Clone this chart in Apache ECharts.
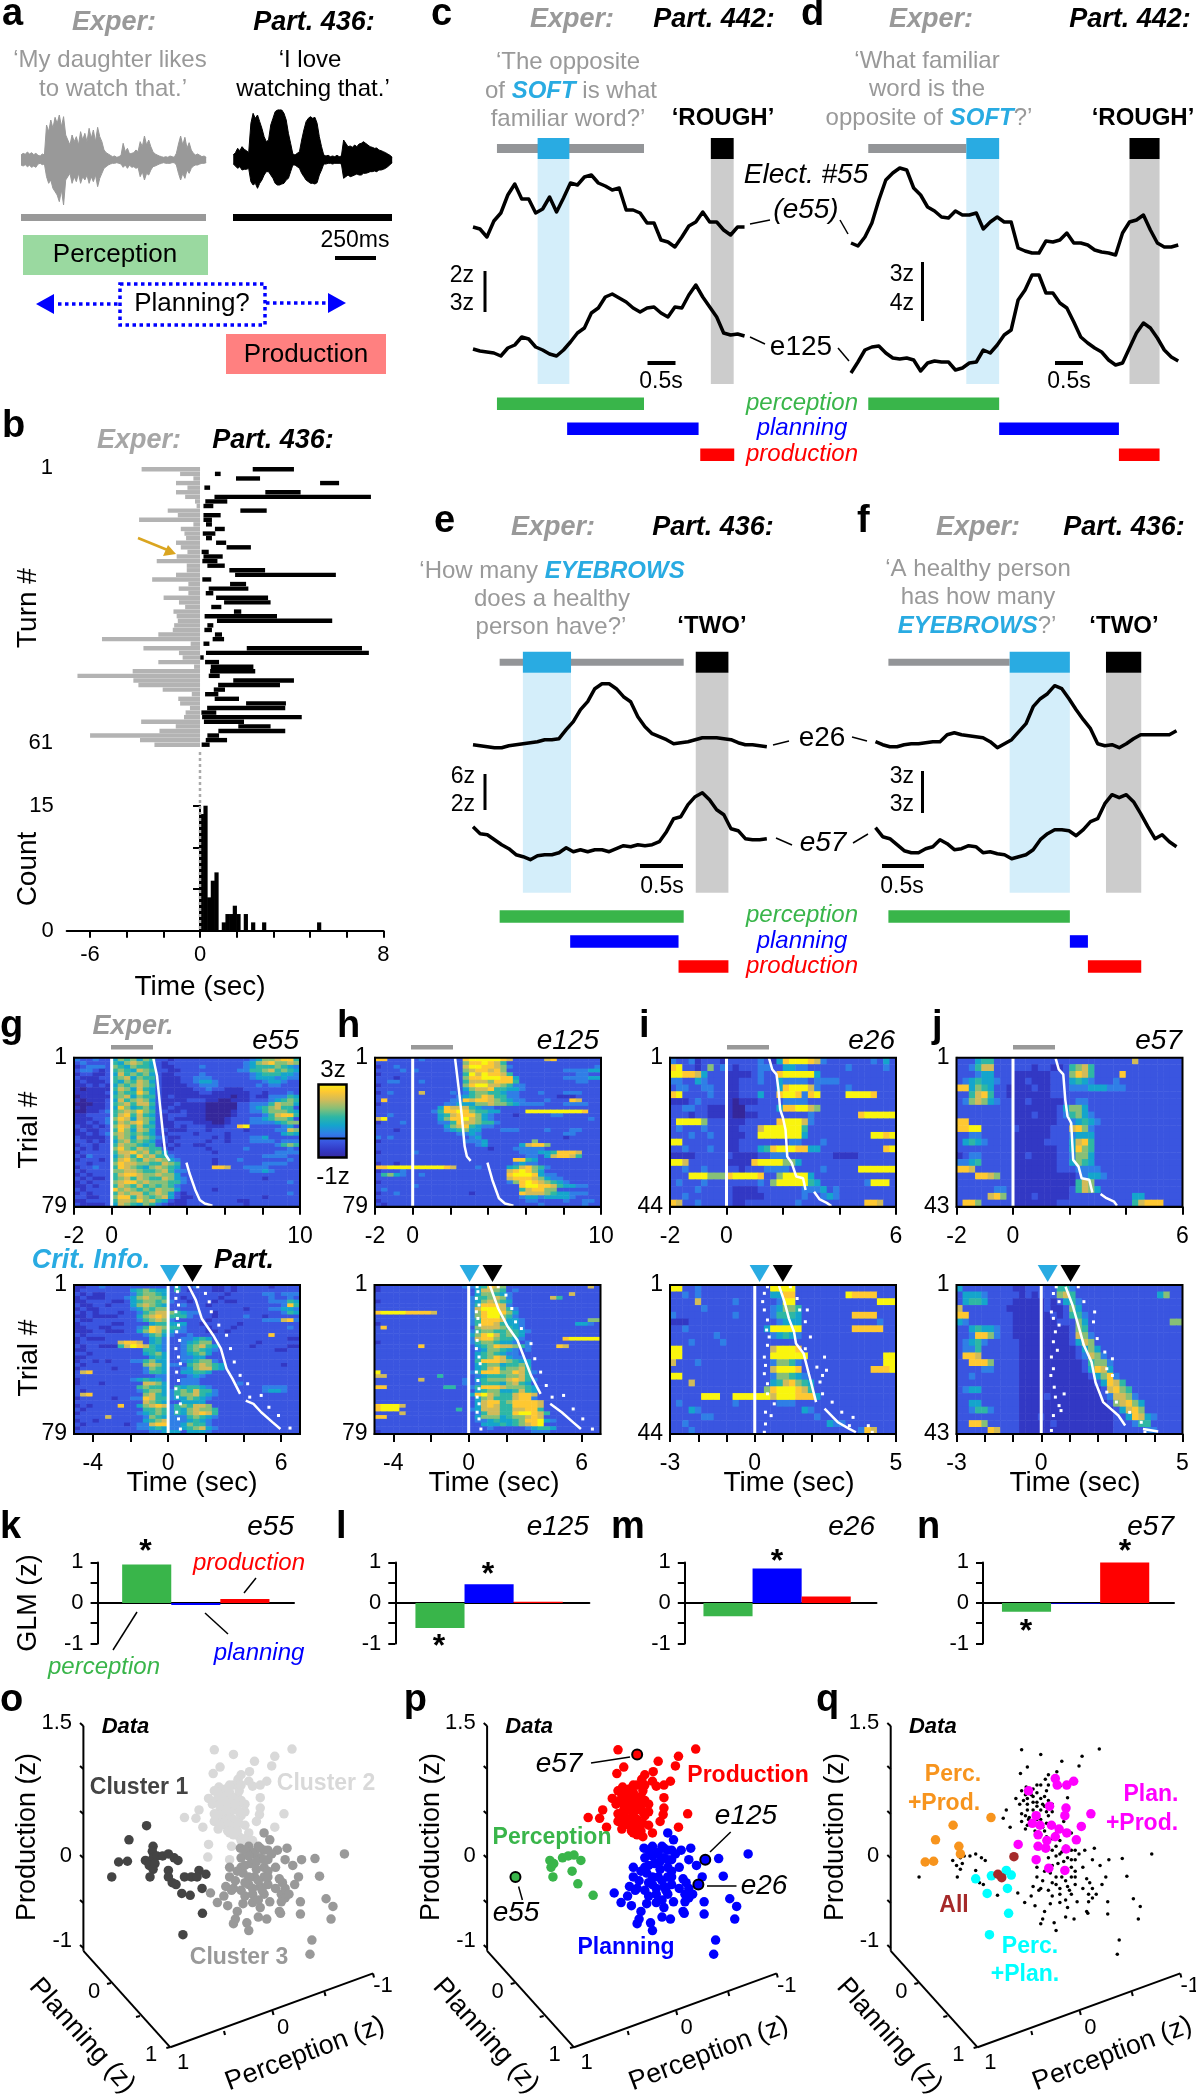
<!DOCTYPE html>
<html lang="en">
<head>
<meta charset="UTF-8">
<title>Perception, planning and production</title>
</head>
<body style="margin:0;background:#fff">
<div id="main" style="width:1196px;height:2100px"></div>
<script src="https://cdn.jsdelivr.net/npm/echarts@6/dist/echarts.min.js"></script>
<script>
// panel a: waveform envelopes
var expUp = [15,20,17,24,18,22,16,20,14,12,18,15,105,85,120,95,128,110,135,100,130,75,60,45,75,55,70,45,85,60,80,55,95,65,90,55,98,70,55,30,22,18,14,10,12,8,10,14,50,25,35,18,20,22,30,25,55,40,72,45,60,40,25,18,15,12,10,8,10,8,12,10,8,20,48,72,45,68,35,52,30,20,15,18,14,10,12,8];
var expDown = [15,18,14,20,16,22,18,22,12,10,14,12,50,70,60,85,95,105,125,90,135,60,50,40,70,50,65,40,70,50,60,45,70,50,65,45,80,55,40,25,20,15,12,10,10,8,10,12,22,15,25,15,22,20,25,22,50,35,60,40,45,30,20,18,15,12,10,8,10,10,10,8,8,15,40,60,40,55,30,40,25,18,15,15,12,10,10,8];
var partUp = [15,22,35,28,40,32,28,22,110,140,125,135,115,95,70,55,60,105,125,145,150,155,150,140,120,80,50,18,15,20,25,60,90,115,125,130,125,128,110,70,40,15,12,14,10,12,10,14,10,12,60,50,40,42,38,45,40,48,50,55,50,45,40,38,35,36,30,28,25,22,18,14,8];
var partDown = [12,18,25,20,30,28,28,25,65,75,70,85,70,60,45,35,35,45,55,70,75,75,72,70,60,55,35,15,15,20,25,40,50,60,65,70,70,72,68,45,30,12,12,10,10,12,10,10,10,12,55,50,45,50,48,45,42,45,45,40,40,38,35,35,33,35,30,30,28,25,20,14,8];

// panel b: turn durations in sec
var expLen = [2.55,.87,.29,1.05,.55,1.05,.65,.22,.15,1.41,.97,2.66,.29,.84,.68,.61,1.05,.84,.55,1.02,1.89,.58,.58,1.05,2.09,.51,.93,.51,1.59,.92,.65,1.16,1.02,.97,1.13,1.19,1.82,4.28,.41,2.47,.92,.76,1.82,.26,2.94,5.35,2.91,2.69,1.63,.36,.95,.87,.44,.63,.7,2.57,1.06,1.77,4.8,2.62,1.99];
var partOn = [2.3,.65,1.57,5.24,.19,2.85,.63,.23,.15,1.76,.15,.15,.26,.65,.12,.26,.7,1.16,.07,.15,.1,.32,1.28,1.53,.1,1.31,.38,.25,.7,1.05,.49,1.48,.2,.74,.32,.19,.65,.55,.15,2.04,.26,.01,.22,.47,.44,.38,1.45,.79,.6,.22,.64,2.01,.31,.06,.09,.17,1.67,.8,.32,.25,.07];
var partOff = [4.1,.9,2.62,6.07,.44,4.39,7.46,1.19,.58,2.91,.9,.52,.52,1.08,.67,.52,1.14,2.22,.38,.99,.76,1.08,2.84,5.93,.49,2.01,2.11,.58,2.97,3.08,.93,1.8,3.36,5.77,.58,.52,.96,1.05,.41,7.07,7.37,.16,.83,2.33,2.41,.86,4.1,3.49,1.09,.8,1.7,3.75,3.72,.71,4.44,1.92,3.08,3.72,.83,1.18,.42];
var histCounts = [14,15,4,6,7,0,1,2,2,3,2,0,2,0,1,0,0,1,0,0,0,0,0,0,0,0,0,0,0,0,0,0,1];

// panels c-f: high gamma traces, offset on one shared axis
var c55 = [23.8,23.6,22.8,24.4,25.2,27,28.1,26.6,26.6,25.2,25.6,26.8,25.3,26.7,28.2,28,28.8,29,28.2,27.9,27.5,27.7,25.5,25.5,25.2,24.2,24.2,22.5,22.3,21.8,22.8,23.9,24.3,25.3,24.3,24.3,23.5,23,23.8,23.8];
var c125 = [11.6,11.4,11.3,11.2,10.9,11.7,12,12.8,12.6,11.8,11.5,11.1,10.9,11.5,12.3,13.2,13.7,15.2,15.7,16.8,17.1,16.7,16.3,15.7,15.3,15.7,15.8,15.2,14.8,15.8,15.7,17,18,16.8,15.8,14.8,13.2,13,13.1,12.9];
var d55 = [22.2,21.9,22.8,24.2,26.5,28.5,29.2,29.7,29.5,27.7,27,25.8,25.4,24.8,24.7,25.4,25,25,25.2,23.6,24.3,24.8,24.3,24.3,21.7,21.4,21.2,21.2,22.4,22.3,22.5,23.2,22.2,22.2,22,21.5,21.3,21.2,21,23.2,24.3,24.5,25,23.5,22.2,21.8,21.8,22];
var d125 = [9.2,10.3,11.5,11.8,11.9,11.2,10.7,10.6,10.7,10.5,9.4,10.2,10.4,10.3,10.3,9.5,9.7,10.2,10.3,11.5,11.2,12,13,13.5,16.5,17.5,19,19,17.2,17.2,16.2,15.7,14.3,12.8,12.2,11.7,11.3,10.5,10,10.2,11.7,13.2,14.2,13.7,12.7,11.5,10.8,10.4];
var e26 = [23.2,23.1,23,22.9,22.9,23.1,23.2,23.3,23.4,23.5,23.7,23.7,23.8,24.7,25.5,26.7,27.5,28.8,29.3,29.3,28.8,28,27.5,26,25,24.3,24,23.7,23.3,23.4,23.5,23.7,23.9,23.9,23.9,23.8,23.7,23.4,23.2,23.2,23.1,23];
var e57 = [15,14.3,14.2,13.7,13.2,12.8,12.2,12,11.7,12.1,12.2,12.2,12.4,12.9,12.5,12.7,12.5,12.7,12.7,12.5,12.8,13.1,13,13.2,13.1,13.2,13.5,14.5,15.8,16,17.2,18,18.4,17.7,16.7,16.2,14.8,14.6,13.8,13.7,13.7,13.8];
var f26 = [23.5,23.2,23,23,23.2,23.3,23.3,23.4,23.5,23.5,24.2,24.4,24.2,24.1,24,23.9,23.5,22.9,23.3,23.7,24.5,25.3,27,27.8,28.3,29.1,28.8,27.8,26.7,25.7,24.8,23.3,23.1,23.2,22.9,23.3,23.8,24.2,24.2,24.2,24.2,24.2,24.6];
var f57 = [14.9,14,13.8,13.2,12.6,12.4,12.4,12.8,13,13.7,13.3,12.7,12.8,13.1,13,12.4,12.5,12.3,12.2,11.8,12,12.2,12.7,13.7,14.3,14.7,14.7,14.6,14.1,14.7,15.5,15.8,17.3,18.2,17.9,18.2,17.5,16.3,15,13.8,14.2,13.5,13];
// event windows in sec
var cEvents = {exper:[.43,3.07],crit:[1.16,1.73],part:[4.27,4.68],perc:[.43,3.07],plan:[1.69,4.05],prod:[4.08,4.69]};
var dEvents = {exper:[.31,2.07],crit:[2.07,2.66],part:[5,5.54],perc:[.31,2.66],plan:[2.66,4.81],prod:[4.81,5.54]};
var eEvents = {exper:[.31,2.45],crit:[.58,1.14],part:[2.59,2.97],perc:[.31,2.45],plan:[1.13,2.39],prod:[2.39,2.97]};
var fEvents = {exper:[.15,1.56],crit:[1.56,2.26],part:[2.68,3.09],perc:[.15,2.26],plan:[2.26,2.47],prod:[2.47,3.09]};

// panels g-j: single trial activity, one digit per cell, 0 = -1z ... 9 = 3z
var gTop = [
"322322465646522122222222222234667885","232222546765421222222222222346786676","123332654655421122223222222345556543","233212565476522112222222223355675654",
"122112475656421122223222222234555443","211122567465521112233322222234443433","121112546576421112234432222222344322","112121465676521111223332222223233222",
"101111576475421111122322111222222222","111112465586421111112211111122122232","011111567465521211111111101121133354","101112475676421111222110011122234565",
"000112567577521121111000002233357664","101112486456421211111000002234567552","001123567686522112111000012233566654","112222578575421222111000012222357885",
"111223687476521211111000122233456652","112123576786421122211100122233334566","211212687575521121222111228922222342","121122586476422111222122222122223376",
"112123676565421222212222122222222454","211112576476532112222212122233422222","221212467565422122222122122233332333","122122576654521212211222222222223565",
"212122686576552122222122222322222232","122222577867564222222212222222223333","213222467586755322222222222222333322","122212578657676432222212223222222232",
"221222687766557652222212222222333322","122322587654676542222288722333322222","212222667765567533222222222233432222","121222578876676642222222222222222222",
"212112567576557643222222222222122222","121222678867666553222222222222222232","112122576575656532222222222222222222","212222867656576642222212222222222222",
"121222576775676421222222222222222232","221122688576567421122222222222122222","112222577686754211222222221122222222","211112476546532111222222222122222222"];
var gBottom = [
"112232222222222242232211212222212222","122222222456544252122211212222222222","212112222356654222222222122222332333","121112223467665221222221222222232232",
"112222112456656322122212112222233354","211221222467654223222122222222222385","121122222346566222222222222122233443","212122212235677654332212222222222354",
"112111122246787555322212222322122222","211222222235676322222122222222333783","122222112222455444221222221222222222","112211222235876553222122212222222232",
"111221112246875433222112122222222222","212222222223564322322222222222282222","121112222222453223345422222222222211","122222278872453223456622222221222222",
"212211157987543223567542222212222211","112222222225543223565432222222221122","221222222224564223456422222222222222","112222222222454223344222222222222222",
"122121222335644223456632222222222222","212222222226764332567654222222222122","122222122223654223467754222222222222","278222222223554224455422222222222222",
"222222222222233222343222222222222222","122222222345443223332222222222222222","122212222227764223332222223222222222","222222222256554254554322222222333322",
"212222222235664356575532222222344322","278222222226754356675432222222222222","122222122338755344654322222222222222","222222222227654224444222222222222222",
"121222282246787356577622222222222222","212222222225565354676652222222222222","122222222234565354678752222222222222","222227222223654333565432222222222222",
"122122222224567333454322222222222222","212222221233788334655322222222222222","122222222233454334567432222222222222","222222222222334442444322222222222222"];
var hTop = [
"882222232222228999998722222782222222","222222222222226889875222222222222222","122322222222227998876322222222222223","222232322222226788786222222222333344",
"122222222222225979887522222222223322","222122222222226889998842222222333344","223322232222225777688852222222223322","122222222222226899776533222222222222",
"222222222222224677855443222222222222","123222272222323566554332223222333222","222222222222234568755332222221112222","282222222222338788765433222322287222",
"122222222223344466766543333222333322","222222222248777543322222222222222222","222222222358898655442222999999999822","223222222245788864322212222233222222",
"792222222246889764322222222222222232","122232222233587765532222222222222222","222222222224678543322222222222222222","222122222223456442223332222322233222",
"222222222222233432222222222222332222","323222222222222342222222222222122222","122222222222223334222222262222222222","222222222222222234222224788622222222",
"222222222222222222122233333222222222","122222322222222222222223334458887222","222222222222222222222222332478875222","222222222222222222222288542222222222",
"122122222222222222222234332222222222","889999999998722232222457865322222222","122232222222222222222789864222222222","256432232222222222222899984332222222",
"222222222222222222222788876433222222","122222222222222222222368987654322222","222222322222222222222228998875443322","232222222222222222222225788662222222",
"122322222222222122222228777654433322","222222222222222222222223443444432222","122222222222222222222222332222322332","212222222222222222222222223222222322"];
var hBottom = [
"122222222222223345876222222222222272","122222222222222247765232222222222222","222222222222222246654322222222272222","222222222222222355676322222275222222",
"122222222222222346765422222222222222","222222222222222358887322222222222222","222222222222222379997532222222222222","899998888722222368998642222222222222",
"222222222222222368996532222222222222","222222222222222358887443222222222266","122222222222222358875443222222224432","282222222222222267776543222222222222",
"222222222222222356655654322222222222","222222222222222468975654222222222222","222222222222222378865543222222899999","122222222222222356654432322222222222",
"222222282222222245687765322228722222","222222222222222234665432322222222222","222222222222222245654332222222222222","222222222222222245687433222222222222",
"222222222222222258887654422222222222","222222222222222245664556422222222222","222222222222222245785667522222222222","922222222222222358886687532222222222",
"772222222252222234555667522222222222","222222272222223245666787532222222222","222222222222223235554675422222222222","882222222225522358887666542222222222",
"222222222222222245664457542222222222","222222222222222489765578872222222222","222222222222222246755578832222222222","222222222222222247885688887222222222",
"899972222222222247875588887222222222","899922222222252347775577885222222222","222272222222222235775589987522222222","882222222222222246664566787222222222",
"222222222222222233454456889432222222","222222222222222224445456789222222222","222222222222222222322222345542222222","122222222222222222222222233322222222"];
var iTop = [
"322312221222223214899987322222223242","892212623212223322443322222232222232","998874222111123228999994222222222222","332243222112223224333323333222222222",
"233223322112222224899973222232222222","892222322112224228998389222299998222","111232222101112222333322222222222222","223322111100222224889976222222222222",
"222122111100112222222232222222899999","299996222111222228999732222222222222","232223222112227999999522222222222222","222322322111229999999422222222229989",
"992222222112222222233222322222222222","223222322112224589998844222222222289","111122222211112233322222221111222222","997222222111189999664222222222222222",
"223223222221222333322222322222999999","222999666899998226999942222222222222","232223222222223269999954222222239992","222232222211112222222333423222222222",
"223222222211111222222322343222222222","872232222211222222223222222222288722"];
var iBottom = [
"992232222222222299992222222222222222","223232222222222244882222222298888222","222272222232222223992222222222222999","222223222222222234665222222222222222",
"322222222232222235554222222228888222","111222222222222223444222222222222322","223222222222222499999222222228888822","222222232222222234543222222222222222",
"222322223222222222222222222222222222","992222222222222279998222222222222222","992222222222222299999922222222222299","722232222222222236653222222222222299",
"222222222222222279998222222222228889","992222222222222236654322222222222222","222722222222222245786542222222222222","222222222222222689998752222222222222",
"222229992299999979998884222222222222","232222222232222223332222222222222222","222432222222222222222432222222222222","222223322222222222222223222222222222",
"223222222222222222222222243322222222","222322222222222222222222222222387222"];
var jTop = [
"222455222222222222222222222272222222","223577222222122112567522222222222222","222344222111111222687522228222222222","234544322112111222454322232222222222",
"884654221111211222333444333222222222","225785221111111222222222222222222222","236764322112111112233222222222222222","222222222111111124664222222222222222",
"222222222111211123564322222222222222","882222222111111122345432222222222222","889922222211111222786322222222222222","223322222111111222344422222222222222",
"245432222111112222478522222222222222","222222222111111122486522222222222222","123322222112111122366422222222222222","334522222111111122465422222222222222",
"887222222111111122233332222222222222","222887622111111111123443222222222222","222222222111111111157622222222222222","222222332111111111257642222222222222",
"222227862111211111222222222244222222","288622222111111122222222222257888222"];
var jBottom = [
"422222222112222255322222222222222222","244432222212122267522222222222224622","245542222111112124532222222222222222","722222221111112112642222222222222222",
"882222222111111212553222222222222222","432222222111111122264222222222222266","224544322111111111265222222222222222","223886322111111111276322222222222222",
"234532222211111111247622222222222222","233522222211111111124642222222222222","288722222211111111123763222222222222","228886222211111111112566322222222222",
"222233222211111111112487422222222222","223222222211111111111246832222222222","222222222211111111111124875222222222","234422222211111111111112786522222222",
"222222222211112111111112377632222222","224422222211111111111111267864222222","223553222211111111111111124786222222","222222222211121111111111122487432222",
"228862222211111211111111122235522222","222228722211111111111111122222332222"];

// white trial markers: [time, trial]
var gTopEnd = [[2.21,1.3],[2.41,10.6],[2.57,26.4],[2.72,40.4],[2.86,51.8],[3.08,55],['-','-'],[3.97,55.9],[4.13,61.5],[4.44,70.2],[4.68,75.5],[4.94,77.3],[5.35,78.5]];
var hTopEnd = [[2.25,1.3],[2.45,17.6],[2.61,31.7],[2.76,47.4],[2.88,52.7],[3.08,55],['-','-'],[3.97,55.9],[4.23,65],[4.58,74.6],[4.9,77.3],[5.35,78.5]];
var iTopEnd = [[1.5,1],[1.62,4.4],[1.77,5.8],[1.84,10.2],[1.9,16],[2,18.4],[2.09,21.8],[2.15,29.5],[2.31,31.4],[2.47,35.3],[2.71,35.8],[2.8,39.2],['-','-'],[3.1,39.7],[3.3,41.9],[3.55,42.9],[3.71,43.8]];
var jTopEnd = [[1.51,1.2],[1.62,4.3],[1.78,5.7],[1.85,12.8],[1.93,17.5],[2.06,19.4],[2.13,29.8],[2.32,31.7],[2.43,35],[2.7,35.4],[2.81,39],['-','-'],[3.1,39.4],[3.31,40.6],[3.58,41.6],[3.68,42.7]];
var trials79 = [1.9,4.5,8,11.5,15,18.5,22,25.5,30,34.3,38.7,42.2,46.6,51,55.3,59.7,63.2,67.6,71.1,76.4];
var gOnset = [.45,.49,.41,.55,.41,.49,.55,.45,.61,.41,.55,.65,.45,.55,.41,.49,.65,.45,.55,.65];
var hOnset = [.45,.49,.41,.55,.41,.49,.59,.45,.45,.41,.55,.61,.41,.49,.55,.45,.55,.45,.55,.65];
var gMid = [[1.06,1],[1.47,8.9],[1.78,18.5],[2.39,27.3],[2.8,34.3],[3.1,44.8],[3.41,50],[3.82,58],['-','-'],[4.12,61.5],[4.53,63.2],[4.94,67.6],[5.55,72.9],[5.96,76.4]];
var gLate = [[1.57,1.9],[1.98,5.4],[2.18,9.8],[2.29,15],[2.69,22],[3.1,27.3],[3.31,34.3],[3.51,41.3],[3.82,48.3],[4.22,52.7],[4.33,59.7],[4.94,58.8],[5.35,65],[5.86,69.3],[6.47,75.9]];
var hMid = [[1.12,1],[1.57,13.3],[2.08,22.9],[2.59,29.9],[2.9,37.8],[3.31,48.3],[3.82,58],['-','-'],[4.33,63.2],[4.94,67.6],[5.55,72.9],[5.96,76.4]];
var hLate = [[1.57,1.9],[1.98,6.3],[2.29,13.3],[2.49,20.3],[2.8,23.8],[3.31,31.7],[3.51,39.6],[3.82,46.6],[4.12,53.6],[4.43,59.7],[5.04,58.8],[5.55,65.9],[6.06,71.1],[6.57,76.4]];
var iOnset = [[.45,1.5],[.34,3.4],[.28,5.8],[.34,8.2],[.45,11.1],[.42,14],[.51,16],[.45,18.4],[.34,21.8],[.38,24.2],[.34,26.6],[.45,29.5],[.45,32.4],[.69,35.3],[.38,37.7],[.58,38.7],[.38,41.1],[.34,43.5]];
var iMid = [[.85,1],[1.05,5.8],[1.21,10.7],[1.39,14.5],[1.46,17.9],[1.73,20.8],[1.93,27.1],[2.17,34.8],['-','-'],[2.47,36.7],[2.94,40.6],[3.35,42.5],[3.58,43.5]];
var iLate = [[1.26,1.5],[1.5,4.9],[1.59,8.2],[1.86,8.2],[1.79,11.6],[1.97,16],[1.79,19.4],[2.47,21.8],[2.2,24.7],[2.54,25.6],[2.4,27.1],[2.31,29],[2.4,32.4],[2.74,34.8],[3.08,37.7],[3.48,39.2],[3.35,41.6],[4.02,41.6],[4.16,43.5]];
var jOnset = [[.53,1.5],[.43,3.4],[.63,5.7],[.36,8.6],[.43,10.4],[.63,12.3],[.5,14.2],[.43,17],[.57,19.4],[.36,21.3],[.43,24.6],[.34,26.5],[.46,29.8],[.5,32.6],[.81,31.7],[.63,35],[.43,37.8],[.7,36.4],[.36,42]];
var jMid = [[.86,1.5],[1.11,6.7],[1.31,12.3],[1.51,18],[1.78,22.7],[1.92,28.4],[2.19,34],[2.73,37.8],[2.97,40.6],['-','-'],[3.6,41.6],[4.14,42.3]];
var jLate = [[1.31,1.5],[1.51,5.7],[1.89,8.6],[1.85,11.4],[1.98,16.1],[2.25,19.9],[2.52,21.8],[2.32,24.6],[2.52,26.5],[2.32,31.2],[2.66,34],[3.13,36.9],[3.54,39.7],[3.67,42.5]];

// panels k-n: GLM weights for perception, planning, production
var glmNames = ['perception','planning','production'];
var glmE55 = [.95,-.05,.1];
var glmE125 = [-.62,.46,.03];
var glmE26 = [-.33,.85,.16];
var glmE57 = [-.22,-.02,1];

// panels o-q: electrodes in the plane of the 3d projection
var cluster1 = [[383,149],[337,112],[400,95],[398,82],[310,54],[333,56],[292,15],[380,58],[400,65],[410,70],[425,70],[440,75],[455,65],[465,58],[390,45],[405,50],[400,35],[392,15],[440,32],[440,15],[450,0],[460,-5],[482,15],[500,15],[520,32],[515,15],[538,22],[475,-28],[497,-33],[528,-15],[529,-80],[478,-136]];
var cluster2 = [[560,347],[610,335],[665,317],[718,330],[763,349],[575,302],[557,285],[710,305],[630,282],[652,290],[622,270],[572,250],[590,245],[610,255],[660,252],[680,255],[697,265],[545,220],[565,215],[585,230],[620,225],[680,222],[600,200],[575,190],[560,180],[580,170],[600,180],[620,200],[640,205],[680,195],[520,190],[512,168],[482,170],[530,145],[578,165],[590,150],[610,165],[630,175],[640,185],[678,178],[742,180],[570,140],[600,130],[625,120],[650,130],[670,160],[718,145],[545,100],[543,67],[605,95],[600,60],[630,110],[660,110],[600,210],[575,220],[560,240],[570,230],[590,225],[600,235],[610,220],[625,240],[630,215],[555,205],[575,205],[590,210],[610,190],[625,185],[600,165],[590,190],[570,175],[585,155],[600,150],[615,145],[625,155],[560,160],[575,150],[640,150],[610,125],[595,135],[620,135],[640,115],[615,205],[600,255],[630,255],[650,265]];
var cluster3 = [[690,130],[705,112],[725,85],[750,90],[900,75],[628,90],[650,95],[675,95],[690,85],[630,65],[660,75],[680,65],[700,60],[745,60],[765,45],[788,60],[823,63],[600,40],[630,40],[655,50],[690,40],[720,40],[600,15],[635,25],[665,15],[690,15],[780,15],[835,17],[550,-27],[590,-10],[610,-15],[650,-5],[680,-10],[700,-5],[738,0],[770,-5],[585,-35],[630,-20],[660,-30],[690,-30],[735,-30],[745,-40],[852,-42],[568,-52],[595,-60],[635,-55],[660,-52],[705,-50],[735,-50],[785,-50],[870,-62],[620,-75],[680,-65],[730,-75],[733,-80],[615,-95],[675,-90],[697,-95],[785,-82],[865,-95],[610,-107],[645,-105],[650,-125],[815,-150],[810,-187],[640,85],[665,80],[680,90],[700,85],[650,70],[670,55],[690,60],[710,75],[640,45],[670,35],[700,30],[650,15],[675,5],[700,15],[640,0],[660,-15],[685,-20],[720,-15],[640,-35],[675,-45],[605,-20],[615,5],[620,30],[730,10],[745,-15],[755,-30]];
var percOnly = [[292,15],[382,58],[390,15],[385,40],[392,50],[415,65],[430,70],[445,72],[463,58],[440,30],[455,-3],[495,-33]];
var planProd = [[648,272],[578,240],[653,255],[678,255],[696,265],[633,200],[676,195],[598,175],[741,180],[588,155],[608,150],[638,150],[673,175],[658,140],[678,130],[716,147],[603,125],[648,120],[626,110],[703,112],[551,100],[603,95],[623,90],[676,88],[598,60],[631,38],[673,32]];
var percProd = [[480,170],[381,150],[335,112],[396,95],[400,75],[308,54],[330,56]];
var percPlan = [[520,32],[481,18],[533,20],[440,10],[470,-28],[523,-15],[526,-80],[476,-136]];
var allThree = [[540,68],[498,22],[508,13]];

var FONT = '"Liberation Sans", Arial, sans-serif';
var GREEN = '#39B54A', BLUE = '#0000FF', RED = '#FF0000', CRIT = '#29ABE2', GREY = '#999999';
var heatColors = ['#35279a','#3238c4','#3a55e0','#2f7fe6','#14a5cc','#2eb7a4','#87bf77','#d1bb59','#fec832','#f9f50e'];

var grids = [], xAxes = [], yAxes = [], series = [], gfx = [], heatIdx = [];

function addGrid(l, t, w, h, xa, ya) {
  grids.push({left: l, top: t, width: w, height: h, containLabel: false});
  xa.gridIndex = grids.length - 1;
  ya.gridIndex = grids.length - 1;
  xAxes.push(xa);
  yAxes.push(ya);
  return grids.length - 1;
}
function hidden(min, max) {
  return {type: 'value', min: min, max: max, show: false};
}
function addSeries(g, s) {
  s.xAxisIndex = g;
  s.yAxisIndex = g;
  series.push(s);
  return series.length - 1;
}

// annotation helpers
function T(text, x, y, size, o) {
  o = o || {};
  gfx.push({type: 'text', x: x, y: y, rotation: o.rot || 0, z: 50, silent: true, style: {
    text: text, fontSize: size, fontFamily: FONT, fontWeight: o.bold ? 'bold' : 'normal',
    fontStyle: o.italic ? 'italic' : 'normal', fill: o.color || '#000',
    align: o.align || 'center', verticalAlign: 'middle', rich: o.rich
  }});
}
function L(x1, y1, x2, y2, color, w, dash) {
  gfx.push({type: 'line', z: 50, silent: true, shape: {x1: x1, y1: y1, x2: x2, y2: y2},
    style: {stroke: color || '#000', lineWidth: w || 1.5, lineDash: dash}});
}
function R(x, y, w, h, fill, stroke, lw, dash) {
  gfx.push({type: 'rect', z: 49, silent: true, shape: {x: x, y: y, width: w, height: h},
    style: {fill: fill || 'transparent', stroke: stroke, lineWidth: lw, lineDash: dash}});
}
function P(points, fill) {
  gfx.push({type: 'polygon', z: 50, silent: true, shape: {points: points}, style: {fill: fill}});
}
function panelLetter(s, x, y) {
  T(s, x, y, 38, {bold: true, align: 'left'});
}

// ---- panel a
panelLetter('a', 2, 15);
T('Exper:', 114, 23, 27, {bold: true, italic: true, color: GREY});
T('Part. 436:', 314, 23, 27, {bold: true, italic: true});
T('‘My daughter likes', 110, 60, 24, {color: GREY});
T('to watch that.’', 113, 89, 24, {color: GREY});
T('‘I love', 310, 60, 24);
T('watching that.’', 313, 89, 24);
var gWave = addGrid(21, 110, 372, 100, hidden(0, 2.27), hidden(-150, 150));
function wave(up, down, t0, dur, color) {
  [up, down.map(function (v) { return -v; })].forEach(function (arr) {
    var dt = dur / (arr.length - 1);
    addSeries(gWave, {type: 'line', symbol: 'none', lineStyle: {width: 1, color: color}, areaStyle: {color: color, opacity: 1},
      data: arr.map(function (v, i) { return [t0 + i * dt, v]; })});
  });
}
wave(expUp, expDown, 0, 1.13, GREY);
wave(partUp, partDown, 1.295, .97, '#000');
R(21, 214, 185, 7, GREY);
R(233, 214, 159, 7, '#000');
R(23, 235, 185, 40, '#9AD9A0');
T('Perception', 115, 255, 26);
T('250ms', 355, 241, 23);
R(335, 256, 41, 4, '#000');
R(120, 284, 145, 41, null, BLUE, 3.5, [3.5, 3.5]);
T('Planning?', 192, 304, 26);
L(58, 304, 119, 304, BLUE, 3.5, [3.5, 3.5]);
P([[36, 304], [54, 294], [54, 314]], BLUE);
L(266, 303, 328, 303, BLUE, 3.5, [3.5, 3.5]);
P([[346, 303], [328, 293], [328, 313]], BLUE);
R(226, 334, 160, 40, '#FF8080');
T('Production', 306, 355, 26);

// ---- panel b
panelLetter('b', 2, 427);
T('Exper:', 139, 441, 27, {bold: true, italic: true, color: '#a6a6a6'});
T('Part. 436:', 273, 441, 27, {bold: true, italic: true});
T('1', 53, 468, 22, {align: 'right'});
T('61', 53, 743, 22, {align: 'right'});
T('Turn #', 28, 608, 28, {rot: Math.PI / 2});
var turnCats = expLen.map(function (v, i) { return i + 1; });
var gTurn = addGrid(66.7, 467, 316.6, 280, hidden(-5.82, 8), {type: 'category', data: turnCats, inverse: true, show: false});
var barOpt = {type: 'bar', stack: 'turn', barCategoryGap: '4%'};
addSeries(gTurn, Object.assign({}, barOpt, {itemStyle: {color: '#b3b3b3'}, data: expLen.map(function (v) { return -v; })}));
addSeries(gTurn, Object.assign({}, barOpt, {itemStyle: {color: 'transparent'}, data: partOn}));
addSeries(gTurn, Object.assign({}, barOpt, {itemStyle: {color: '#000'}, data: partOff.map(function (v, i) { return v - partOn[i]; })}));
L(138, 538, 170, 551, '#DAA520', 2.5);
P([[176, 554], [163, 556], [168, 545]], '#DAA520');
var histX = [-4.8, -3.2, -1.6, 0, 1.6, 3.2, 4.8, 6.4, 8];
var gHist = addGrid(66.7, 805.7, 316.6, 125, {
  type: 'value', min: -5.82, max: 8, splitLine: {show: false},
  axisLine: {lineStyle: {color: '#000', width: 2}},
  axisTick: {customValues: histX, length: 7, lineStyle: {color: '#000', width: 2}},
  axisLabel: {customValues: [-4.8, 0, 8], margin: 13, fontSize: 22, fontFamily: FONT, color: '#000',
    formatter: function (v) { return v < 0 ? '-6' : String(v); }}
}, {
  type: 'value', min: 0, max: 15, interval: 5, splitLine: {show: false},
  axisLine: {show: true, lineStyle: {color: '#000', width: 2}},
  axisTick: {length: 7, lineStyle: {color: '#000', width: 2}},
  axisLabel: {margin: 13, fontSize: 22, fontFamily: FONT, color: '#000',
    formatter: function (v) { return v === 0 || v === 15 ? String(v) : ''; }}
});
addSeries(gHist, {type: 'bar', barWidth: 4.2, itemStyle: {color: '#000'},
  data: histCounts.map(function (c, i) { return [i * .16 + .08, c]; })});
L(200, 752, 200, 930, '#aaaaaa', 2.5, [3, 3]);
T('Count', 28, 869, 28, {rot: Math.PI / 2});
T('Time (sec)', 200, 987, 28);

// ---- panels c-f
function rectSeries(g, rows, color, z) {
  addSeries(g, {type: 'custom', z: z, silent: true, clip: false, encode: {x: [0, 1], y: [2, 3]}, data: rows,
    renderItem: function (p, api) {
      var a = api.coord([api.value(0), api.value(3)]);
      var b = api.coord([api.value(1), api.value(2)]);
      return {type: 'rect', shape: {x: a[0], y: a[1], width: b[0] - a[0], height: b[1] - a[1]}, style: {fill: color}};
    }});
}
function tracePanel(x0, y0, pxPerSec, dur, dt, upper, lower, ev, lv) {
  var g = addGrid(x0, y0 - 330, pxPerSec * dur, 330, hidden(0, dur), hidden(0, 33));
  rectSeries(g, [[ev.crit[0], ev.crit[1], lv.bandLow, lv.bandTop]], '#D4EEFA', 1);
  rectSeries(g, [[ev.part[0], ev.part[1], lv.bandLow, lv.bandTop]], '#CCCCCC', 1);
  rectSeries(g, [[ev.exper[0], ev.exper[1], lv.expLow, lv.expTop]], '#939598', 1);
  rectSeries(g, [[ev.crit[0], ev.crit[1], lv.bandTop, lv.capTop]], CRIT, 2);
  rectSeries(g, [[ev.part[0], ev.part[1], lv.bandTop, lv.capTop]], '#000', 2);
  rectSeries(g, [[ev.perc[0], ev.perc[1], lv.percLow, lv.percLow + 1.25]], GREEN, 2);
  rectSeries(g, [[ev.plan[0], ev.plan[1], lv.planLow, lv.planLow + 1.25]], BLUE, 2);
  rectSeries(g, [[ev.prod[0], ev.prod[1], lv.prodLow, lv.prodLow + 1.25]], RED, 2);
  [upper, lower].forEach(function (tr) {
    addSeries(g, {type: 'line', symbol: 'none', z: 5, lineStyle: {color: '#000', width: 3.5, join: 'round'},
      data: tr.map(function (v, i) { return [i * dt, v]; })});
  });
}
var levelsTop = {bandLow: 8.1, bandTop: 30.6, capTop: 32.7, expLow: 31.2, expTop: 32.1, percLow: 5.5, planLow: 3, prodLow: .4};
var levelsMid = {bandLow: 8.4, bandTop: 30.4, capTop: 32.5, expLow: 31.1, expTop: 31.8, percLow: 5.4, planLow: 2.9, prodLow: .4};
tracePanel(473, 465, 55.7, 5, .125, c55, c125, cEvents, levelsTop);
tracePanel(851, 465, 55.7, 5.9, .125, d55, d125, dEvents, levelsTop);
tracePanel(473, 976.7, 86, 3.5, 1 / 12, e26, e57, eEvents, levelsMid);
tracePanel(875.5, 976.7, 86, 3.5, 1 / 12, f26, f57, fEvents, levelsMid);

var kw = {s: {fontSize: 24, fontFamily: FONT, fontWeight: 'bold', fontStyle: 'italic', fill: CRIT},
  g: {fontSize: 24, fontFamily: FONT, fill: GREY}};
function q(text, x, y) {
  T(text, x, y, 24, {color: GREY, rich: kw});
}
panelLetter('c', 431, 15);
T('Exper:', 572, 20, 27, {bold: true, italic: true, color: GREY});
T('Part. 442:', 714, 20, 27, {bold: true, italic: true});
q('{g|‘The opposite}', 568, 62);
q('{g|of }{s|SOFT}{g| is what}', 571, 91);
q('{g|familiar word?’}', 568, 119);
T('‘ROUGH’', 723, 118, 24, {bold: true});
panelLetter('d', 801, 15);
T('Exper:', 931, 20, 27, {bold: true, italic: true, color: GREY});
T('Part. 442:', 1130, 20, 27, {bold: true, italic: true});
q('{g|‘What familiar}', 927, 61);
q('{g|word is the}', 927, 89);
q('{g|opposite of }{s|SOFT}{g|?’}', 929, 118);
T('‘ROUGH’', 1143, 118, 24, {bold: true});
T('Elect. #55', 806, 175, 28, {italic: true});
T('(e55)', 806, 210, 28, {italic: true});
L(750, 224, 770, 220);
L(840, 220, 848, 234);
T('e125', 801, 347, 28);
L(750, 337, 765, 344);
L(838, 348, 849, 361);
T('2z', 474, 276, 23, {align: 'right'});
T('3z', 474, 304, 23, {align: 'right'});
R(483.5, 271, 3, 41, '#000');
T('3z', 914, 275, 23, {align: 'right'});
T('4z', 914, 304, 23, {align: 'right'});
R(921, 262, 3, 59, '#000');
R(647.5, 361, 28, 4, '#000');
T('0.5s', 661, 382, 23);
R(1055, 361, 28, 4, '#000');
T('0.5s', 1069, 382, 23);

panelLetter('e', 434, 522);
T('Exper:', 553, 528, 27, {bold: true, italic: true, color: GREY});
T('Part. 436:', 713, 528, 27, {bold: true, italic: true});
q('{g|‘How many }{s|EYEBROWS}', 552, 571);
q('{g|does a healthy}', 552, 599);
q('{g|person have?’}', 551, 627);
T('‘TWO’', 712, 626, 24, {bold: true});
panelLetter('f', 857, 522);
T('Exper:', 978, 528, 27, {bold: true, italic: true, color: GREY});
T('Part. 436:', 1124, 528, 27, {bold: true, italic: true});
q('{g|‘A healthy person}', 978, 569);
q('{g|has how many}', 978, 597);
q('{s|EYEBROWS}{g|?’}', 977, 626);
T('‘TWO’', 1124, 626, 24, {bold: true});
T('e26', 822, 738, 28);
L(773, 745, 789, 741);
L(852, 737, 867, 741);
T('e57', 823, 843, 28, {italic: true});
L(776, 838, 792, 845);
L(853, 843, 868, 834);
T('6z', 475, 777, 23, {align: 'right'});
T('2z', 475, 805, 23, {align: 'right'});
R(483.5, 774, 3, 36, '#000');
T('3z', 914, 777, 23, {align: 'right'});
T('3z', 914, 805, 23, {align: 'right'});
R(921, 771, 3, 42, '#000');
R(640, 864, 43, 4, '#000');
T('0.5s', 662, 887, 23);
R(882, 864, 42, 4, '#000');
T('0.5s', 902, 887, 23);
[[403, 428, 454], [915, 941, 966]].forEach(function (ys) {
  T('perception', 802, ys[0], 24, {italic: true, color: GREEN});
  T('planning', 802, ys[1], 24, {italic: true, color: BLUE});
  T('production', 802, ys[2], 24, {italic: true, color: RED});
});

// ---- panels g-j
function heatPanel(left, top, rows, xMin, xMax, ticks, labels, nTrials) {
  var cols = 36, w = 226, h = 149;
  var gh = addGrid(left, top, w, h,
    {type: 'category', show: false, data: Array.from({length: cols}, function (v, i) { return i; })},
    {type: 'category', show: false, inverse: true, data: rows.map(function (v, i) { return i; })});
  var cells = [];
  rows.forEach(function (row, r) {
    row.padEnd(cols, '2').slice(0, cols).split('').forEach(function (d, c) { cells.push([c, r, +d]); });
  });
  heatIdx.push(addSeries(gh, {type: 'heatmap', data: cells, silent: true, z: 1}));
  var g = addGrid(left, top, w, h, {
    type: 'value', min: xMin, max: xMax, splitLine: {show: false},
    axisLine: {onZero: false, lineStyle: {color: '#000', width: 2}},
    axisTick: {customValues: ticks, length: 8, lineStyle: {color: '#000', width: 2}},
    axisLabel: {customValues: labels, margin: 18, fontSize: 23, fontFamily: FONT, color: '#000'}
  }, {
    type: 'value', min: 1, max: nTrials, inverse: true, splitLine: {show: false},
    axisLine: {onZero: false, lineStyle: {color: '#000', width: 2}},
    axisTick: {show: false},
    axisLabel: {customValues: [1, nTrials], margin: 7, fontSize: 23, fontFamily: FONT, color: '#000'}
  });
  R(left, top, w, h, null, '#000', 2);
  return g;
}
function whiteLine(g, data, w) {
  addSeries(g, {type: 'line', symbol: 'none', z: 6, connectNulls: false, lineStyle: {color: '#fff', width: w || 2.5}, data: data});
}
function whiteDots(g, data) {
  addSeries(g, {type: 'scatter', symbol: 'rect', symbolSize: 3, z: 6, itemStyle: {color: '#fff', opacity: 1}, data: data});
}
var g1;
g1 = heatPanel(74, 1057.7, gTop, -2, 10, [-2, 0, 2, 4, 6, 8, 10], [-2, 0, 10], 79);
whiteLine(g1, [[0, 1], [0, 79]], 3); whiteLine(g1, gTopEnd);
g1 = heatPanel(375, 1057.7, hTop, -2, 10, [-2, 0, 2, 4, 6, 8, 10], [-2, 0, 10], 79);
whiteLine(g1, [[0, 1], [0, 79]], 3); whiteLine(g1, hTopEnd);
g1 = heatPanel(670, 1057.7, iTop, -2, 6, [-2, 0, 2, 4, 6], [-2, 0, 6], 44);
whiteLine(g1, [[0, 1], [0, 44]], 3); whiteLine(g1, iTopEnd);
g1 = heatPanel(956.5, 1057.7, jTop, -2, 6, [-2, 0, 2, 4, 6], [-2, 0, 6], 43);
whiteLine(g1, [[0, 1], [0, 43]], 3); whiteLine(g1, jTopEnd);

var ticks6 = [-4, -2, 0, 2, 4, 6], ticks5 = [-3, -2, -1, 0, 1, 2, 3, 4, 5];
g1 = heatPanel(74, 1285, gBottom, -5, 7, ticks6, [-4, 0, 6], 79);
whiteLine(g1, [[0, 1], [0, 79]], 3); whiteLine(g1, gMid); whiteDots(g1, gLate);
whiteDots(g1, gOnset.map(function (t, i) { return [t, trials79[i]]; }));
g1 = heatPanel(374.5, 1285, hBottom, -5, 7, ticks6, [-4, 0, 6], 79);
whiteLine(g1, [[0, 1], [0, 79]], 3); whiteLine(g1, hMid); whiteDots(g1, hLate);
whiteDots(g1, hOnset.map(function (t, i) { return [t, trials79[i]]; }));
g1 = heatPanel(670, 1285, iBottom, -3, 5, ticks5, [-3, 0, 5], 44);
whiteLine(g1, [[0, 1], [0, 44]], 3); whiteLine(g1, iMid); whiteDots(g1, iLate); whiteDots(g1, iOnset);
g1 = heatPanel(956.5, 1285, jBottom, -3, 5, ticks5, [-3, 0, 5], 43);
whiteLine(g1, [[0, 1], [0, 43]], 3); whiteLine(g1, jMid); whiteDots(g1, jLate); whiteDots(g1, jOnset);

panelLetter('g', 0, 1027);
panelLetter('h', 337, 1027);
panelLetter('i', 639, 1027);
panelLetter('j', 932, 1027);
T('Exper.', 133, 1027, 27, {bold: true, italic: true, color: GREY});
[[111, 42], [411, 42], [727, 42], [1013, 42]].forEach(function (b) { R(b[0], 1045, b[1], 4.5, GREY); });
T('e55', 299, 1041, 28, {italic: true, align: 'right'});
T('e125', 599, 1041, 28, {italic: true, align: 'right'});
T('e26', 895, 1041, 28, {italic: true, align: 'right'});
T('e57', 1182, 1041, 28, {italic: true, align: 'right'});
T('Trial #', 29, 1130, 28, {rot: Math.PI / 2});
T('Trial #', 29, 1358, 28, {rot: Math.PI / 2});
T('Crit. Info.', 91, 1261, 27, {bold: true, italic: true, color: CRIT});
T('Part.', 244, 1261, 27, {bold: true, italic: true});
[[170, 192.5], [469.6, 492.5], [759.6, 782.8], [1047.7, 1070.5]].forEach(function (p) {
  P([[p[0] - 10, 1265], [p[0] + 10, 1265], [p[0], 1282]], CRIT);
  P([[p[1] - 10, 1265], [p[1] + 10, 1265], [p[1], 1282]], '#000');
});
[192, 494, 789, 1075].forEach(function (x) { T('Time (sec)', x, 1483, 28); });
// colour bar
gfx.push({type: 'rect', z: 49, silent: true, shape: {x: 318.5, y: 1084.5, width: 28, height: 73},
  style: {stroke: '#000', lineWidth: 2.5, fill: {type: 'linear', x: 0, y: 1, x2: 0, y2: 0,
    colorStops: heatColors.map(function (c, i) { return {offset: i / (heatColors.length - 1), color: c}; })}}});
L(318, 1138.5, 347, 1138.5, '#000', 2);
T('3z', 333, 1070, 24);
T('-1z', 333, 1177, 24);

// ---- panels k-n
function glmPanel(left, right, xMin, vals) {
  var g = addGrid(left, 1562.4, right - left, 81.1, {
    type: 'value', min: xMin, max: xMin + (right - left) / 49.1,
    splitLine: {show: false}, axisTick: {show: false}, axisLabel: {show: false},
    axisLine: {onZero: true, lineStyle: {color: '#000', width: 2}}
  }, {
    type: 'value', min: -1, max: 1, interval: .5, splitLine: {show: false},
    axisLine: {show: true, onZero: false, lineStyle: {color: '#000', width: 2}},
    axisTick: {length: 7, lineStyle: {color: '#000', width: 2}},
    axisLabel: {margin: 14, fontSize: 22, fontFamily: FONT, color: '#000',
      formatter: function (v) { return Number.isInteger(v) ? String(v) : ''; }}
  });
  var colors = [GREEN, BLUE, RED];
  addSeries(g, {type: 'bar', barWidth: 49.1, data: vals.map(function (v, i) {
    return {name: glmNames[i], value: [i + 1, v], itemStyle: {color: colors[i]}};
  })});
}
glmPanel(97.6, 294, 0, glmE55);
glmPanel(395.3, 589.4, .09, glmE125);
glmPanel(684.8, 876.5, .12, glmE26);
glmPanel(983, 1174, .114, glmE57);
panelLetter('k', 0, 1528);
panelLetter('l', 336, 1528);
panelLetter('m', 611, 1528);
panelLetter('n', 917, 1528);
T('e55', 294, 1527, 28, {italic: true, align: 'right'});
T('e125', 589, 1527, 28, {italic: true, align: 'right'});
T('e26', 875, 1527, 28, {italic: true, align: 'right'});
T('e57', 1174, 1527, 28, {italic: true, align: 'right'});
[[145.4, 1552], [488, 1575], [439, 1647], [777, 1562], [1125, 1552], [1026, 1632]].forEach(function (s) {
  T('*', s[0], s[1], 32, {bold: true});
});
T('GLM (z)', 29, 1603, 27, {rot: Math.PI / 2});
T('production', 249, 1563, 24, {italic: true, color: RED});
T('planning', 259, 1653, 24, {italic: true, color: BLUE});
T('perception', 104, 1667, 24, {italic: true, color: GREEN});
L(256, 1578, 244, 1593);
L(205, 1613, 228, 1634);
L(137, 1612, 113, 1650);

// ---- panels o-q
function scatterGrid(dx) {
  return addGrid(dx, 1691.3, 382.7, 306.2, hidden(0, 1000), hidden(-300, 500));
}
function dots(g, data, color, size, z) {
  addSeries(g, {type: 'scatter', symbolSize: size || 9.5, z: z || 3, itemStyle: {color: color, opacity: 1}, data: data});
}
function ringed(g, point, color) {
  addSeries(g, {type: 'scatter', symbolSize: 10, z: 4, data: [point],
    itemStyle: {color: color, borderColor: '#000', borderWidth: 2, opacity: 1}});
}
function axes3d(dx) {
  L(83.4 + dx, 1725.8, 83.4 + dx, 1950.8, '#000', 2);
  L(83.4 + dx, 1950.8, 170.3 + dx, 2047.3, '#000', 2);
  L(170.3 + dx, 2047.3, 373 + dx, 1973.4, '#000', 2);
  [1726, 1769, 1814, 1858, 1903, 1948].forEach(function (y) { L(83.4 + dx, y, 80 + dx, y - 3, '#000', 2); });
  [[111, 1983], [140, 2016], [170.3, 2047]].forEach(function (p) { L(p[0] + dx, p[1], p[0] - 4 + dx, p[1] + 1, '#000', 2); });
  [[224, 2031], [272.5, 2011], [324.5, 1992], [373, 1973.4]].forEach(function (p) { L(p[0] + dx, p[1], p[0] + 1 + dx, p[1] + 4, '#000', 2); });
  T('1.5', 72 + dx, 1723, 22, {align: 'right'});
  T('0', 72 + dx, 1856, 22, {align: 'right'});
  T('-1', 72 + dx, 1941, 22, {align: 'right'});
  T('0', 94 + dx, 1992, 22);
  T('1', 151 + dx, 2055, 22);
  T('1', 183 + dx, 2063, 22);
  T('0', 283 + dx, 2028, 22);
  T('-1', 383 + dx, 1986, 22);
  T('Production (z)', 28 + dx, 1837, 27, {rot: Math.PI / 2});
  T('Planning (z)', 82 + dx, 2036, 27, {rot: -0.84});
  T('Perception (z)', 305 + dx, 2054, 27, {rot: 0.36});
  T('Data', 125.5 + dx, 1727, 22, {bold: true, italic: true});
}
var gO = scatterGrid(0);
dots(gO, cluster2, '#d9d9d9');
dots(gO, cluster3, '#999999');
dots(gO, cluster1, '#444444');
axes3d(0);
panelLetter('o', 0, 1701);
T('Cluster 1', 139, 1788, 23, {bold: true, color: '#444444'});
T('Cluster 2', 326, 1784, 23, {bold: true, color: '#d9d9d9'});
T('Cluster 3', 239, 1958, 23, {bold: true, color: '#999999'});

var gP = scatterGrid(403.7);
// the production group stops above the planning group in this panel
dots(gP, cluster2.filter(function (p) { return p[1] >= 120; }), RED);
dots(gP, cluster3, BLUE);
dots(gP, percOnly, GREEN);
ringed(gP, percOnly[0], GREEN);
ringed(gP, cluster2[1], RED);
ringed(gP, [788, 60], BLUE);
ringed(gP, [770, -5], BLUE);
axes3d(403.7);
panelLetter('p', 403.7, 1701);
T('Perception', 552, 1838, 23, {bold: true, color: GREEN});
T('Production', 748, 1776, 23, {bold: true, color: RED});
T('Planning', 626, 1948, 23, {bold: true, color: BLUE});
T('e57', 559, 1764, 28, {italic: true});
L(591, 1763, 630, 1757);
T('e55', 516, 1913, 28, {italic: true});
L(518.6, 1886.5, 522.4, 1900);
T('e125', 746, 1816, 28, {italic: true});
L(710, 1852, 730.7, 1832);
T('e26', 764, 1886, 28, {italic: true});
L(707, 1886, 736.5, 1886);

var gQ = scatterGrid(807.3);
dots(gQ, cluster1.concat(cluster2, cluster3), '#000', 3.5, 3);
dots(gQ, planProd, '#FF00FF', 9.5, 4);
dots(gQ, percProd, '#F7941D', 9.5, 4);
dots(gQ, percPlan, '#00FFFF', 9.5, 4);
dots(gQ, allThree, '#A52A2A', 9.5, 4);
axes3d(807.3);
panelLetter('q', 816, 1701);
T('Perc.', 953, 1775, 23, {bold: true, color: '#F7941D'});
T('+Prod.', 944, 1804, 23, {bold: true, color: '#F7941D'});
T('Plan.', 1151, 1795, 23, {bold: true, color: '#FF00FF'});
T('+Prod.', 1142, 1824, 23, {bold: true, color: '#FF00FF'});
T('All', 954, 1906, 23, {bold: true, color: '#A52A2A'});
T('Perc.', 1030, 1947, 23, {bold: true, color: '#00FFFF'});
T('+Plan.', 1025, 1975, 23, {bold: true, color: '#00FFFF'});

var chart = echarts.init(document.getElementById('main'), null, {renderer: 'canvas'});
chart.setOption({
  animation: false,
  backgroundColor: '#fff',
  tooltip: {show: false},
  grid: grids,
  xAxis: xAxes,
  yAxis: yAxes,
  visualMap: {show: false, type: 'continuous', min: 0, max: 9, dimension: 2, seriesIndex: heatIdx, inRange: {color: heatColors}},
  series: series,
  graphic: {elements: gfx}
});
</script>
</body>
</html>
